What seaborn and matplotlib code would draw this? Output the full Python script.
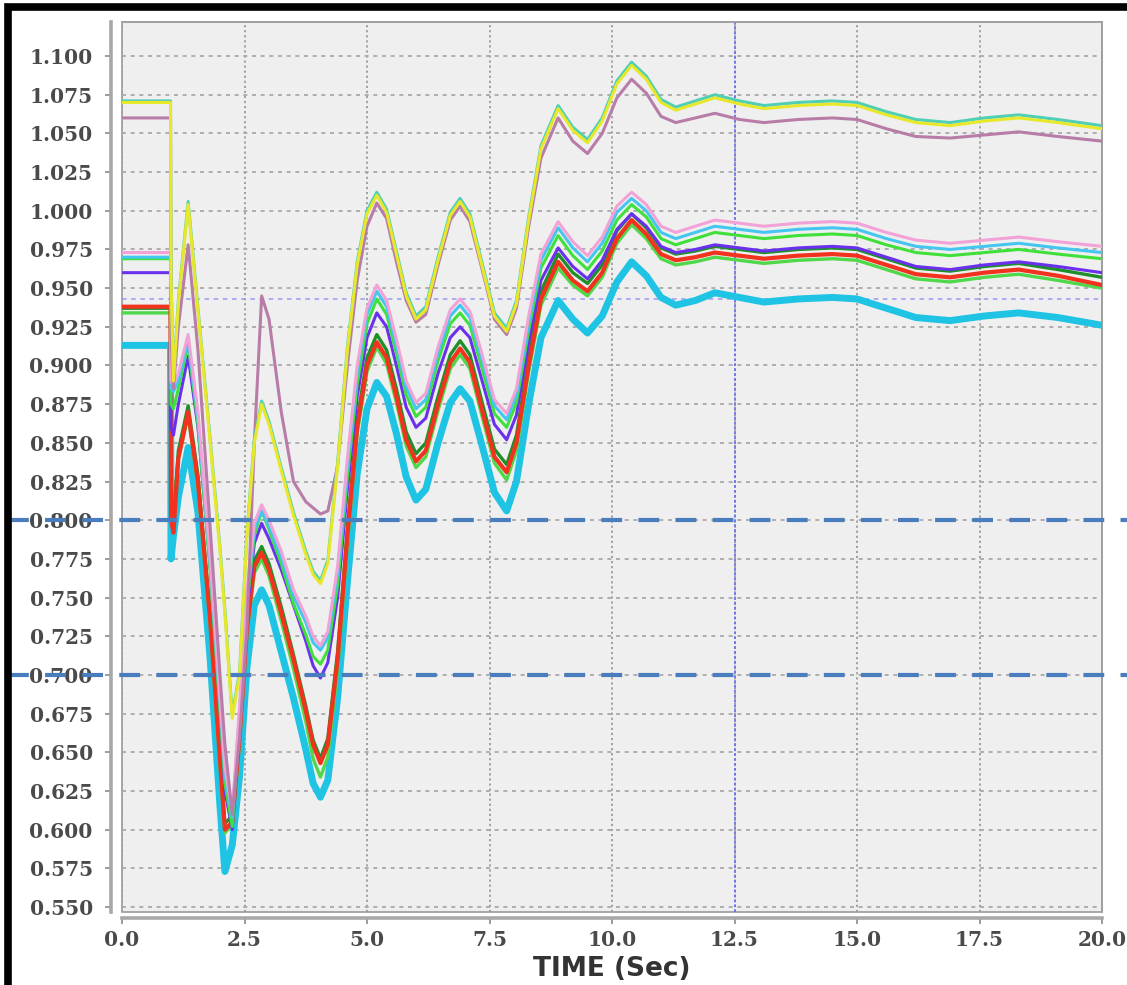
import matplotlib
matplotlib.use("Agg")
import matplotlib.pyplot as plt
import matplotlib.transforms as mtransforms
from matplotlib.patches import Rectangle
import pandas as pd
import seaborn as sns

# ---------------- data ----------------
TIME = [0.0, 0.99, 1.0, 1.05, 1.15,
        1.35, 1.55, 1.8, 2.0, 2.1,
        2.25, 2.4, 2.55, 2.7, 2.85,
        3.0, 3.25, 3.5, 3.75, 3.9,
        4.05, 4.2, 4.4, 4.6, 4.8,
        5.0, 5.2, 5.4, 5.6, 5.8,
        6.0, 6.2, 6.45, 6.7, 6.9,
        7.1, 7.35, 7.6, 7.85, 8.05,
        8.3, 8.55, 8.9, 9.2, 9.5,
        9.8, 10.1, 10.4, 10.7, 11.0,
        11.3, 11.7, 12.1, 12.6, 13.1,
        13.8, 14.5, 15.0, 15.6, 16.2,
        16.9, 17.6, 18.3, 19.1, 20.0]

CYAN_THICK = [0.913, 0.913, 0.775, 0.790, 0.815,
              0.847, 0.805, 0.710, 0.615, 0.573,
              0.590, 0.635, 0.705, 0.745, 0.755,
              0.745, 0.715, 0.685, 0.652, 0.630,
              0.621, 0.632, 0.685, 0.760, 0.830,
              0.872, 0.889, 0.880, 0.856, 0.828,
              0.813, 0.820, 0.850, 0.876, 0.885,
              0.877, 0.848, 0.818, 0.806, 0.825,
              0.875, 0.918, 0.942, 0.930, 0.921,
              0.932, 0.954, 0.967, 0.958, 0.944,
              0.939, 0.942, 0.947, 0.944, 0.941,
              0.943, 0.944, 0.943, 0.937, 0.931,
              0.929, 0.932, 0.934, 0.931, 0.926]

GREEN2 = [0.934, 0.934, 0.810, 0.805, 0.840,
          0.868, 0.822, 0.732, 0.642, 0.598,
          0.603, 0.657, 0.727, 0.766, 0.775,
          0.764, 0.735, 0.704, 0.670, 0.646,
          0.634, 0.647, 0.703, 0.785, 0.856,
          0.896, 0.912, 0.901, 0.876, 0.848,
          0.834, 0.841, 0.871, 0.898, 0.907,
          0.898, 0.867, 0.837, 0.826, 0.845,
          0.896, 0.939, 0.963, 0.952, 0.945,
          0.957, 0.979, 0.991, 0.982, 0.969,
          0.965, 0.967, 0.970, 0.968, 0.966,
          0.968, 0.969, 0.968, 0.962, 0.956,
          0.954, 0.957, 0.959, 0.955, 0.950]

RED = [0.938, 0.938, 0.800, 0.792, 0.840,
       0.870, 0.825, 0.735, 0.645, 0.600,
       0.605, 0.660, 0.730, 0.770, 0.779,
       0.768, 0.740, 0.710, 0.677, 0.655,
       0.643, 0.655, 0.710, 0.790, 0.860,
       0.900, 0.915, 0.905, 0.880, 0.852,
       0.838, 0.845, 0.875, 0.902, 0.911,
       0.902, 0.871, 0.841, 0.831, 0.850,
       0.900, 0.943, 0.967, 0.955, 0.948,
       0.960, 0.982, 0.994, 0.985, 0.972,
       0.968, 0.970, 0.973, 0.971, 0.969,
       0.971, 0.972, 0.971, 0.965, 0.959,
       0.957, 0.960, 0.962, 0.958, 0.952]

DARK_GREEN = [0.937, 0.937, 0.810, 0.800, 0.845,
              0.874, 0.829, 0.739, 0.649, 0.604,
              0.609, 0.664, 0.734, 0.774, 0.783,
              0.772, 0.744, 0.713, 0.680, 0.658,
              0.646, 0.659, 0.715, 0.795, 0.865,
              0.905, 0.920, 0.910, 0.885, 0.857,
              0.843, 0.850, 0.880, 0.907, 0.916,
              0.907, 0.876, 0.846, 0.836, 0.855,
              0.905, 0.948, 0.972, 0.960, 0.953,
              0.965, 0.987, 0.998, 0.989, 0.976,
              0.972, 0.974, 0.977, 0.975, 0.973,
              0.975, 0.976, 0.975, 0.969, 0.963,
              0.961, 0.964, 0.966, 0.962, 0.957]

PURPLE = [0.960, 0.960, 0.860, 0.855, 0.875,
          0.906, 0.860, 0.770, 0.680, 0.625,
          0.600, 0.670, 0.740, 0.785, 0.798,
          0.788, 0.768, 0.745, 0.722, 0.706,
          0.698, 0.708, 0.750, 0.820, 0.880,
          0.918, 0.934, 0.925, 0.900, 0.873,
          0.860, 0.866, 0.895, 0.918, 0.925,
          0.918, 0.890, 0.862, 0.852, 0.868,
          0.915, 0.955, 0.976, 0.964, 0.956,
          0.968, 0.988, 0.998, 0.990, 0.977,
          0.973, 0.975, 0.978, 0.976, 0.974,
          0.976, 0.977, 0.976, 0.970, 0.964,
          0.962, 0.965, 0.967, 0.964, 0.960]

GREEN = [0.969, 0.969, 0.875, 0.872, 0.885,
         0.914, 0.862, 0.767, 0.677, 0.630,
         0.602, 0.670, 0.745, 0.790, 0.806,
         0.794, 0.772, 0.746, 0.726, 0.712,
         0.707, 0.716, 0.758, 0.828, 0.888,
         0.927, 0.943, 0.933, 0.908, 0.881,
         0.867, 0.873, 0.903, 0.927, 0.934,
         0.926, 0.898, 0.869, 0.860, 0.876,
         0.923, 0.963, 0.984, 0.971, 0.962,
         0.974, 0.994, 1.004, 0.996, 0.982,
         0.978, 0.982, 0.986, 0.984, 0.982,
         0.984, 0.985, 0.984, 0.978, 0.973,
         0.971, 0.973, 0.975, 0.972, 0.969]

CYAN_THIN = [0.970, 0.970, 0.885, 0.883, 0.890,
             0.917, 0.866, 0.771, 0.681, 0.636,
             0.608, 0.676, 0.751, 0.794, 0.806,
             0.796, 0.776, 0.751, 0.734, 0.721,
             0.716, 0.724, 0.766, 0.836, 0.896,
             0.933, 0.948, 0.938, 0.913, 0.886,
             0.872, 0.878, 0.908, 0.932, 0.939,
             0.931, 0.903, 0.874, 0.865, 0.881,
             0.928, 0.968, 0.989, 0.976, 0.967,
             0.979, 0.999, 1.008, 1.000, 0.986,
             0.982, 0.986, 0.990, 0.988, 0.986,
             0.988, 0.989, 0.988, 0.982, 0.977,
             0.975, 0.977, 0.979, 0.976, 0.973]

PINK = [0.973, 0.973, 0.890, 0.887, 0.895,
        0.920, 0.870, 0.775, 0.685, 0.640,
        0.612, 0.680, 0.755, 0.798, 0.810,
        0.800, 0.780, 0.755, 0.738, 0.725,
        0.719, 0.728, 0.770, 0.840, 0.900,
        0.937, 0.952, 0.942, 0.917, 0.890,
        0.876, 0.882, 0.912, 0.936, 0.943,
        0.935, 0.907, 0.878, 0.869, 0.885,
        0.932, 0.972, 0.993, 0.980, 0.971,
        0.983, 1.003, 1.012, 1.004, 0.990,
        0.986, 0.990, 0.994, 0.992, 0.990,
        0.992, 0.993, 0.992, 0.986, 0.981,
        0.979, 0.981, 0.983, 0.980, 0.977]

MAUVE = [1.060, 1.060, 0.920, 0.885, 0.925,
         0.978, 0.910, 0.795, 0.700, 0.655,
         0.610, 0.660, 0.730, 0.850, 0.945,
         0.930, 0.870, 0.825, 0.812, 0.808,
         0.804, 0.806, 0.835, 0.900, 0.955,
         0.990, 1.005, 0.995, 0.967, 0.942,
         0.928, 0.933, 0.965, 0.994, 1.003,
         0.993, 0.962, 0.930, 0.920, 0.937,
         0.990, 1.034, 1.060, 1.045, 1.037,
         1.050, 1.073, 1.085, 1.076, 1.061,
         1.057, 1.060, 1.063, 1.059, 1.057,
         1.059, 1.060, 1.059, 1.053, 1.048,
         1.047, 1.049, 1.051, 1.048, 1.045]

TEAL = [1.071, 1.071, 0.957, 0.892, 0.942,
        1.006, 0.937, 0.852, 0.782, 0.742,
        0.674, 0.702, 0.792, 0.852, 0.877,
        0.864, 0.834, 0.805, 0.780, 0.767,
        0.761, 0.774, 0.837, 0.912, 0.967,
        1.000, 1.012, 1.001, 0.974, 0.947,
        0.932, 0.938, 0.970, 0.999, 1.008,
        0.998, 0.966, 0.934, 0.924, 0.942,
        0.996, 1.042, 1.068, 1.054, 1.046,
        1.060, 1.084, 1.096, 1.087, 1.072,
        1.067, 1.071, 1.075, 1.071, 1.068,
        1.070, 1.071, 1.070, 1.064, 1.059,
        1.057, 1.060, 1.062, 1.059, 1.055]

YELLOW = [1.070, 1.070, 0.955, 0.890, 0.940,
          1.004, 0.935, 0.850, 0.780, 0.740,
          0.672, 0.700, 0.790, 0.850, 0.875,
          0.862, 0.832, 0.803, 0.778, 0.765,
          0.759, 0.772, 0.835, 0.910, 0.965,
          0.998, 1.010, 0.999, 0.972, 0.945,
          0.930, 0.936, 0.968, 0.997, 1.006,
          0.996, 0.964, 0.932, 0.922, 0.940,
          0.994, 1.040, 1.066, 1.052, 1.044,
          1.058, 1.082, 1.094, 1.085, 1.070,
          1.065, 1.069, 1.073, 1.069, 1.066,
          1.068, 1.069, 1.068, 1.062, 1.057,
          1.055, 1.058, 1.060, 1.057, 1.053]

THRESHOLDS = [0.800, 0.700]
REF_LEVEL = [0.943]
REF_TIME = [12.5]

X_TICKS = [0.0, 2.5, 5.0, 7.5, 10.0, 12.5, 15.0, 17.5, 20.0]
X_TICK_LABELS = ["0.0", "2.5", "5.0", "7.5", "10.0", "12.5", "15.0", "17.5", "20.0"]
Y_TICKS = [0.550, 0.575, 0.600, 0.625, 0.650, 0.675, 0.700, 0.725, 0.750, 0.775,
           0.800, 0.825, 0.850, 0.875, 0.900, 0.925, 0.950, 0.975, 1.000, 1.025,
           1.050, 1.075, 1.100]
Y_TICK_LABELS = ["0.550", "0.575", "0.600", "0.625", "0.650", "0.675", "0.700",
                 "0.725", "0.750", "0.775", "0.800", "0.825", "0.850", "0.875",
                 "0.900", "0.925", "0.950", "0.975", "1.000", "1.025", "1.050",
                 "1.075", "1.100"]
X_LABEL = "TIME (Sec)"

# draw order, colour, width
SERIES = [
    ("cyan_thick", CYAN_THICK, "#1fc3e3", 5.0),
    ("green2", GREEN2, "#4fd84a", 2.4),
    ("dark_green", DARK_GREEN, "#1f8f2a", 2.4),
    ("red", RED, "#f0321e", 3.0),
    ("purple", PURPLE, "#6a30ee", 2.2),
    ("green", GREEN, "#3fe03a", 2.2),
    ("cyan_thin", CYAN_THIN, "#45c6f0", 2.2),
    ("pink", PINK, "#f2a2d6", 2.2),
    ("mauve", MAUVE, "#b87ca8", 2.2),
    ("teal", TEAL, "#4fcfb4", 2.2),
    ("yellow", YELLOW, "#e8e82a", 2.2),
]

frames = [pd.DataFrame({"time": TIME, "value": vals, "series": name})
          for name, vals, _, _ in SERIES]
df = pd.concat(frames, ignore_index=True)

# ---------------- figure ----------------
W, H = 1127, 985
fig = plt.figure(figsize=(W / 100, H / 100), dpi=100, facecolor="white")
ax = fig.add_axes([122 / W, 1 - 912 / H, 980 / W, (912 - 22) / H])
ax.set_facecolor("#efefef")

ax.set_xlim(0, 20)
ax.set_ylim(0.5468, 1.122)

# grid
ax.set_xticks(X_TICKS)
ax.set_yticks(Y_TICKS)
ax.grid(True, which="major", axis="y", color="#a9a9a9", linestyle=(0, (2.2, 2.6)), linewidth=1.3)
ax.grid(True, which="major", axis="x", color="#9a9a9a", linestyle=(0, (1.2, 1.6)), linewidth=1.3)
ax.set_axisbelow(True)

for name, vals, color, lw in SERIES:
    sns.lineplot(data=df[df["series"] == name], x="time", y="value",
                 color=color, linewidth=lw, ax=ax, legend=False,
                 estimator=None, sort=False, zorder=3,
                 solid_joinstyle="round", solid_capstyle="round")

# reference crosshair lines
for lvl in REF_LEVEL:
    ax.axhline(lvl, color="#9a9af5", linestyle=(0, (3, 3)), linewidth=1.1, zorder=2)
for tv in REF_TIME:
    ax.axvline(tv, color="#6f6ff0", linestyle=(0, (1.5, 1.2)), linewidth=1.3, zorder=2)

# threshold dashed lines spanning beyond the axes
trans = mtransforms.blended_transform_factory(ax.transAxes, ax.transData)
x0 = (7.6 - 122) / 980
x1 = (W - 122) / 980
for th in THRESHOLDS:
    ax.plot([x0, x1], [th, th], transform=trans, color="#4a7dbd",
            linewidth=3.0, linestyle=(0, (5.0, 3.9)), clip_on=False, zorder=6,
            solid_capstyle="butt", dash_capstyle="butt")

# spines / frame
ax.patch.set_edgecolor("#9a9a9a")
ax.patch.set_linewidth(1.2)
for s in ["top", "right"]:
    ax.spines[s].set_visible(True)
    ax.spines[s].set_color("#a0a0a0")
    ax.spines[s].set_linewidth(1.2)
ax.spines["left"].set_position(("outward", 8))
ax.spines["bottom"].set_position(("outward", 4))
for s in ["left", "bottom"]:
    ax.spines[s].set_color("#a8a8a8")
    ax.spines[s].set_linewidth(2.6)

tick_font = dict(family="DejaVu Serif", weight="bold", size=14.5)
ax.set_xticklabels(X_TICK_LABELS, color="#4a4a4a", **tick_font)
ax.set_yticklabels(Y_TICK_LABELS, color="#4a4a4a", **tick_font)
ax.tick_params(axis="both", length=4, width=1.2, color="#8a8a8a")
ax.tick_params(axis="y", pad=9)
ax.tick_params(axis="x", pad=5)

ax.set_xlabel(X_LABEL, family="DejaVu Sans", weight="bold", size=19,
              color="#333333", labelpad=4)
ax.set_ylabel("")

# thick black frame on the top and left of the picture
fig.patches.append(Rectangle((7.5 / W, -0.5), 2.0, 0.5 + 1 - 7 / H,
                             transform=fig.transFigure, fill=False,
                             edgecolor="black", linewidth=5.5, zorder=10))

fig.savefig("out.png", dpi=100, facecolor="white")
